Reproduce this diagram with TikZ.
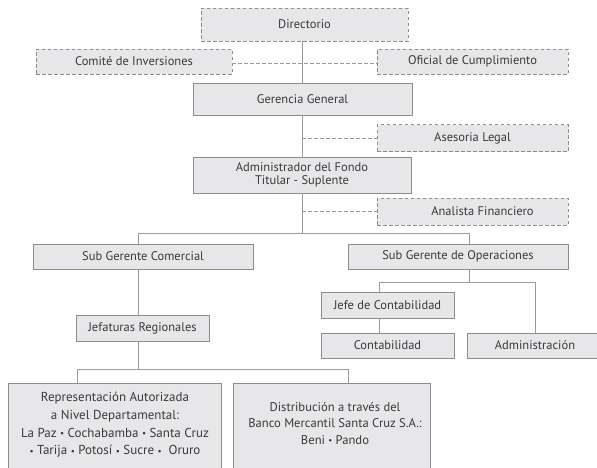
\documentclass[tikz,border=0pt]{standalone}
\usepackage{fontspec}
\usepackage{graphicx}
\setmainfont{PT Sans}
\definecolor{boxfill}{HTML}{E7E7E9}
\definecolor{boxline}{HTML}{8C8C8C}
\definecolor{conn}{HTML}{9A9A9A}
\definecolor{txt}{HTML}{3A3A3A}
\newcommand{\bul}{\raisebox{0.12ex}{\scalebox{0.7}{•}}}
\begin{document}
\begin{tikzpicture}[x=1pt,y=-1pt,
  every node/.style={font=\fontsize{12.5}{13}\selectfont, text=txt},
  solidbox/.style={draw=boxline, fill=boxfill, line width=0.8pt, inner sep=0pt, minimum width=#1},
  dashbox/.style={draw=boxline, fill=boxfill, line width=0.8pt, inner sep=0pt, dash pattern=on 3.5pt off 2.5pt, minimum width=#1},
  line/.style={draw=conn, line width=0.8pt},
  dline/.style={draw=conn, line width=0.8pt, dash pattern=on 3.5pt off 2.5pt}]
\useasboundingbox (0,0) rectangle (597,467);
\clip (0,0) rectangle (597,467);
\fill[white] (0,0) rectangle (597,467);

% coordinates for branches
\coordinate (b1) at (302,233);
\coordinate (b1l) at (138,233);
\coordinate (b1r) at (469,233);
\coordinate (b2) at (469,282);
\coordinate (b2l) at (379,282);
\coordinate (b2r) at (535,282);
\coordinate (b3) at (138,369);
\coordinate (b3l) at (77,369);
\coordinate (b3r) at (348,369);
\coordinate (d1) at (302,63);
\coordinate (d2) at (302,138);
\coordinate (d3) at (302,211.5);

% boxes
\node[dashbox=207pt, minimum height=33pt] (dir) at (304.5,24.5) {Directorio};
\node[dashbox=196pt, minimum height=25pt] (com) at (134,61.5) {Comité de Inversiones};
\node[dashbox=191pt, minimum height=25pt] (ofi) at (472.5,61.5) {Oficial de Cumplimiento};
\node[solidbox=219pt, minimum height=32pt] (ger) at (302.5,99) {Gerencia General};
\node[dashbox=191pt, minimum height=27pt] (ase) at (472.5,138) {Asesoria Legal};
\node[solidbox=218pt, minimum height=36pt, align=center] (adm) at (302,175) {Administrador del Fondo\\Titular - Suplente};
\node[dashbox=191pt, minimum height=27pt] (ana) at (472.5,211.5) {\hspace*{20pt}Analista Financiero};
\node[solidbox=220pt, minimum height=25pt] (sgc) at (143,256.5) {Sub Gerente Comercial};
\node[solidbox=220pt, minimum height=25pt] (sgo) at (458,256.5) {Sub Gerente de Operaciones};
\node[solidbox=133pt, minimum height=26pt] (jef) at (387.5,305) {Jefe de Contabilidad};
\node[solidbox=133pt, minimum height=25pt] (con) at (387.5,345.5) {Contabilidad};
\node[solidbox=136pt, minimum height=25pt] (admi) at (535,345.5) {Administración};
\node[solidbox=133pt, minimum height=26pt] (jr) at (142.5,328) {Jefaturas Regionales};
\node[solidbox=213pt, minimum height=100pt, anchor=north] (rep) at (114.5,383) {};
\node[solidbox=197pt, minimum height=100pt, anchor=north] (dis) at (331.5,383) {};
\node[align=center, font=\fontsize{13}{17.7}\selectfont] (repT) at (115,425) {Representación Autorizada\\a Nivel Departamental:\\La Paz \bul{} Cochabamba \bul{} Santa Cruz\\\bul{} Tarija \bul{} Potosí \bul{} Sucre \bul\ \ Oruro};
\node[align=center, font=\fontsize{12.6}{16.5}\selectfont] (disT) at (335,423.5) {Distribución a través del\\Banco Mercantil Santa Cruz S.A.:\\Beni \bul{} Pando};

% connectors, node to node
\draw[line] (dir.south -| d1) -- (ger.north -| d1);
\draw[line] (ger.south -| d1) -- (adm.north -| d1);
\draw[line] (adm.south -| d1) -- (b1);
\draw[line] (b1l) -- (b1r);
\draw[line] (b1l) -- (sgc.north -| b1l);
\draw[line] (b1r) -- (sgo.north -| b1r);
\draw[line] (sgc.south -| b1l) -- (jr.north -| b1l);
\draw[line] (sgo.south -| b2) -- (b2);
\draw[line] (b2l) -- (b2r);
\draw[line] (b2l) -- (jef.north -| b2l);
\draw[line] (b2r) -- (admi.north -| b2r);
\draw[line] (jef.south -| b2l) -- (con.north -| b2l);
\draw[line] (jr.south -| b3) -- (b3);
\draw[line] (b3l) -- (b3r);
\draw[line] (b3l) -- (rep.north -| b3l);
\draw[line] (b3r) -- (dis.north -| b3r);
\draw[dline] (com.east |- d1) -- (ofi.west |- d1);
\draw[dline] (d2) -- (ase.west |- d2);
\draw[dline] (d3) -- (ana.west |- d3);
\end{tikzpicture}
\end{document}
